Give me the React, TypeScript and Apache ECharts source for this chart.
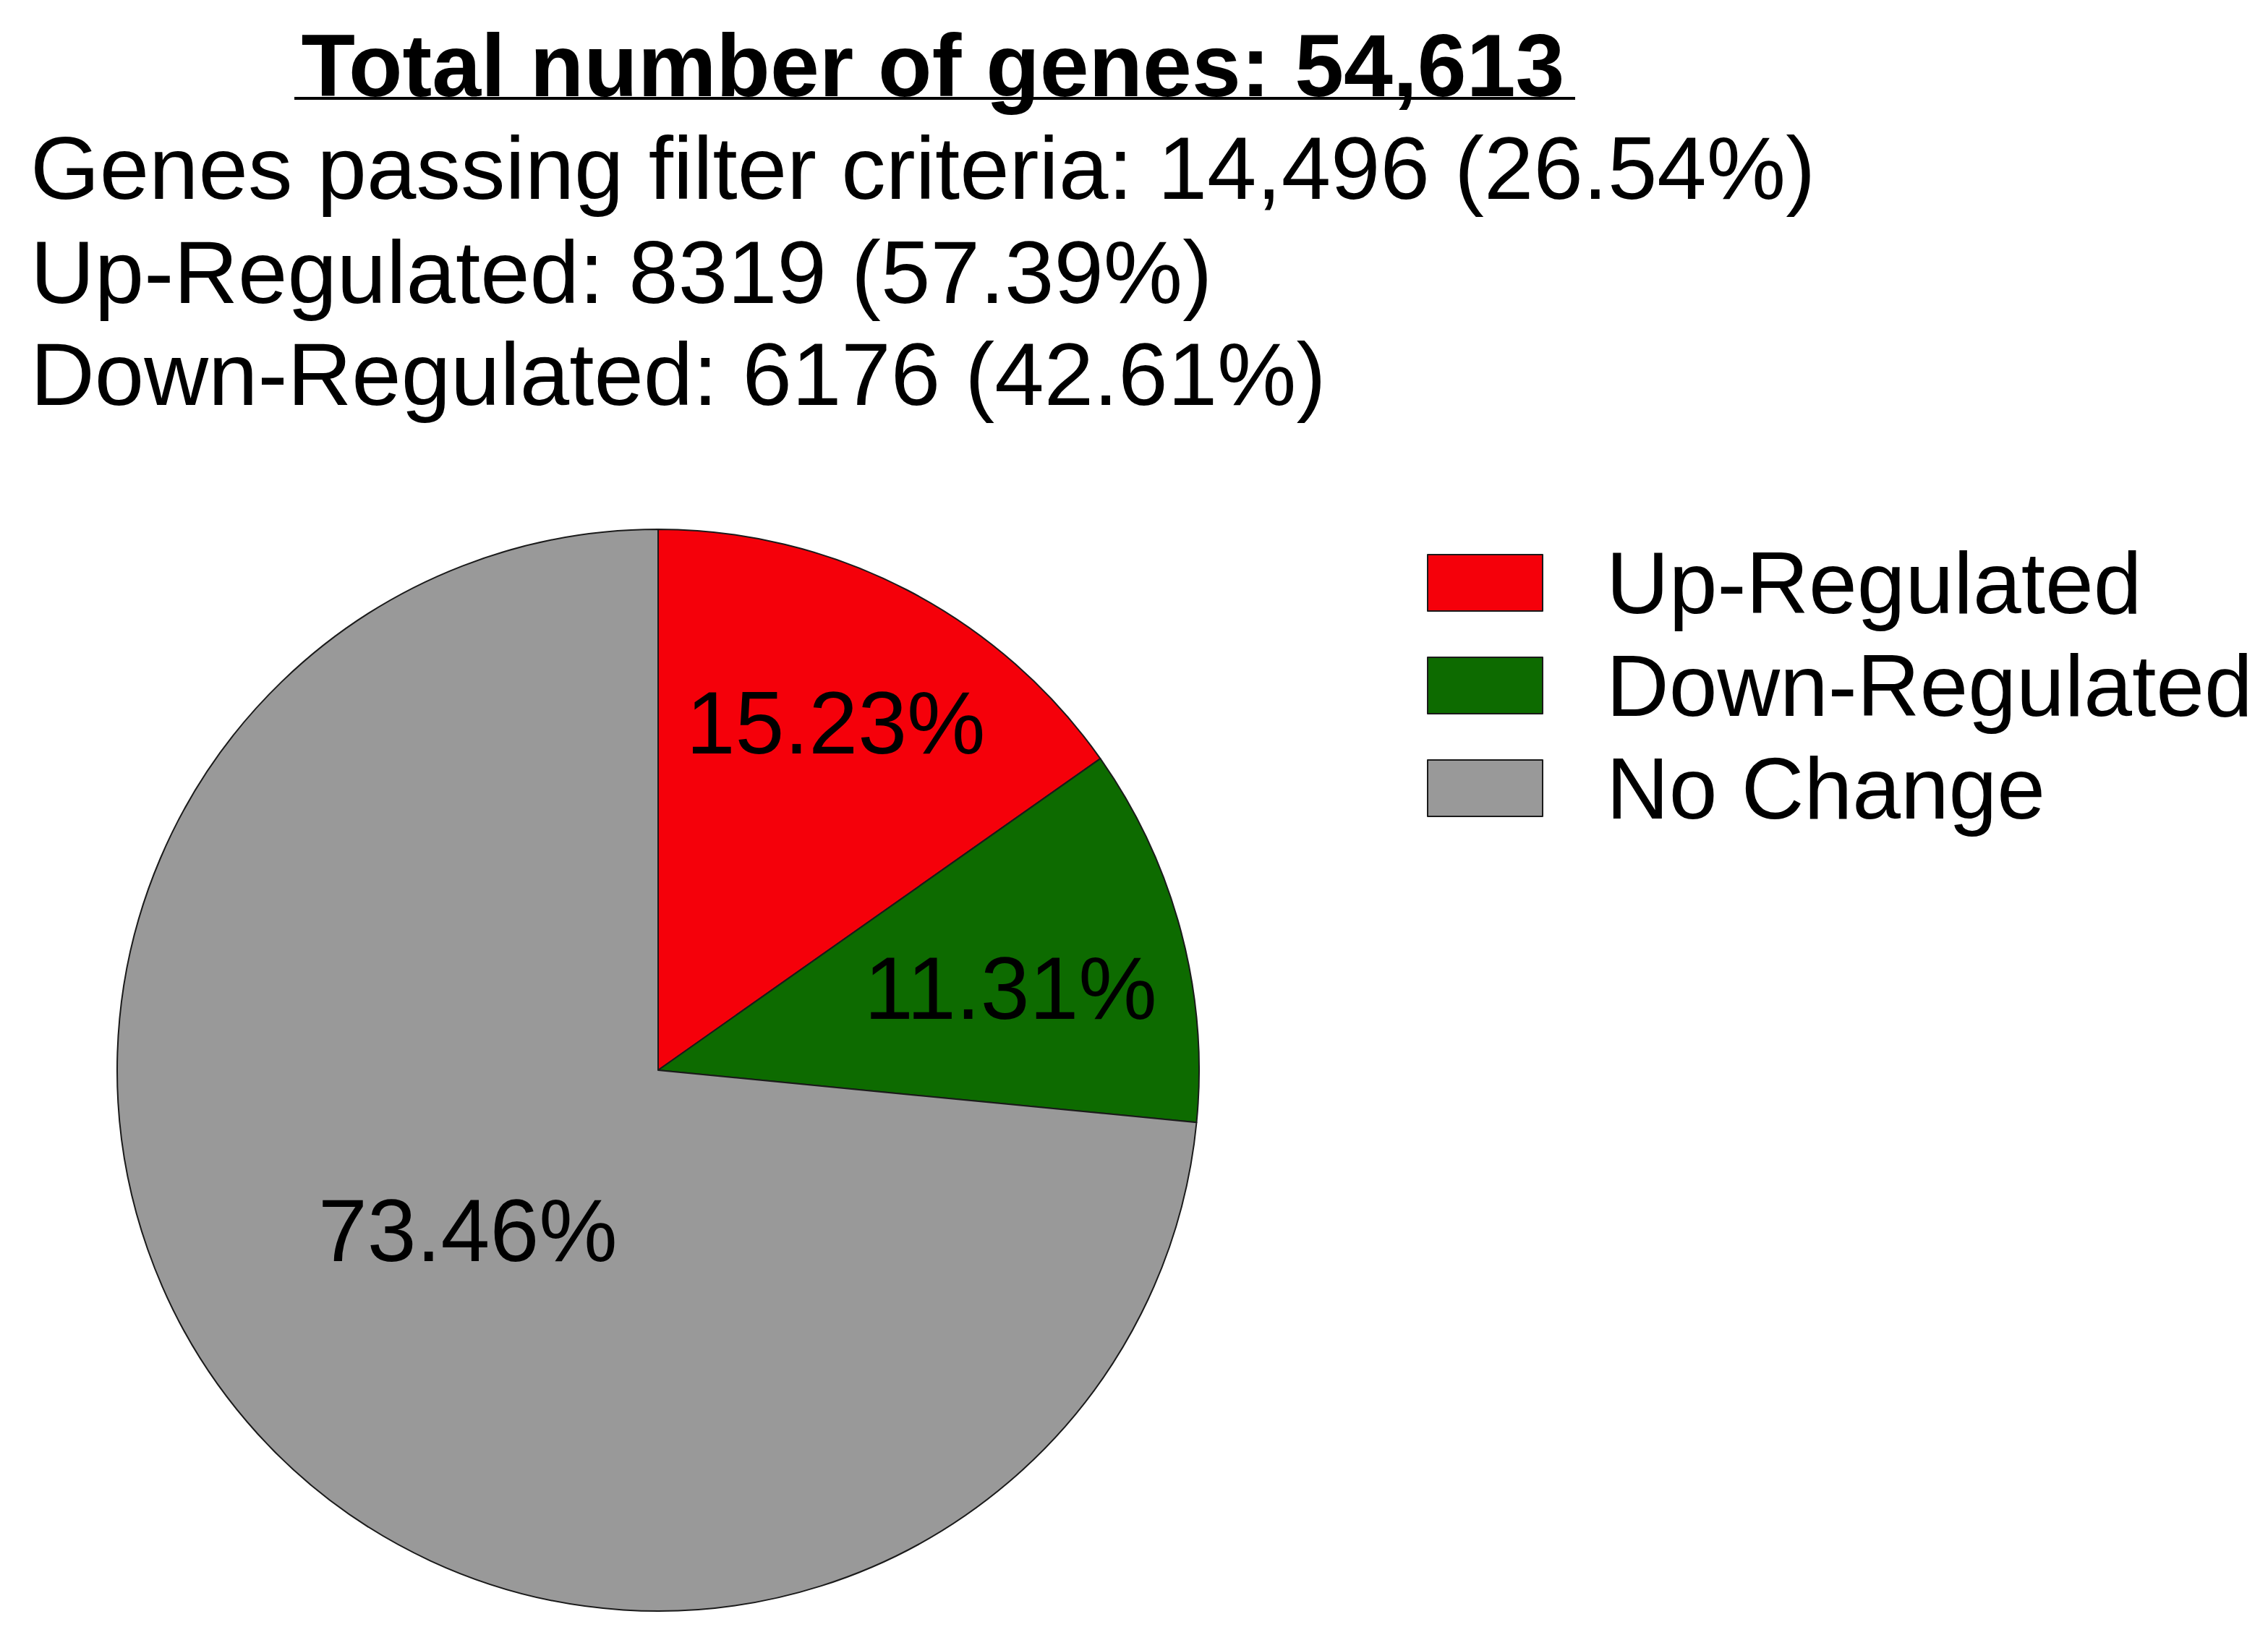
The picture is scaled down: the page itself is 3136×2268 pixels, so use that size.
import React, { useEffect, useRef } from "react";
import * as echarts from "echarts";

const categories = ["Up-Regulated", "Down-Regulated", "No Change"];
const percentages = [15.23, 11.31, 73.46];
const sliceColors = ["#f5000a", "#0d6b00", "#999999"];

const titleText = "Total number of genes: 54,613";
const infoLines = [
  "Genes passing filter criteria: 14,496 (26.54%)",
  "Up-Regulated: 8319 (57.39%)",
  "Down-Regulated: 6176 (42.61%)",
];

// label nudges (px) relative to ECharts' default 'inside' position
const labelNudges = [
  [72, -145],
  [123, -17],
  [16, -31],
];

const FONT = '"Liberation Sans", Arial, Helvetica, sans-serif';

export default function App() {
  const ref = useRef<HTMLDivElement>(null);

  useEffect(() => {
    if (!ref.current) return;
    const chart = echarts.init(ref.current, null, { renderer: "svg" });

    const lineBaselines = [273, 417, 558];
    const graphic: any[] = [
      {
        type: "text",
        x: 1290,
        y: 91,
        style: {
          text: titleText,
          fontSize: 122,
          fontWeight: "bold",
          fontFamily: FONT,
          fill: "#000",
          align: "center",
          verticalAlign: "middle",
        },
      },
      {
        type: "line",
        shape: { x1: 407, y1: 136, x2: 2178, y2: 136 },
        style: { stroke: "#000", lineWidth: 4 },
      },
      ...infoLines.map((t, i) => ({
        type: "text",
        x: 42,
        y: lineBaselines[i] - 41,
        style: {
          text: t,
          fontSize: 123,
          fontFamily: FONT,
          fill: "#000",
          align: "left",
          verticalAlign: "middle",
        },
      })),
    ];

    chart.setOption({
      animation: false,
      backgroundColor: "#ffffff",
      legend: {
        orient: "vertical",
        left: 1973,
        top: 735,
        padding: 0,
        itemGap: 0,
        itemWidth: 159,
        itemHeight: 78,
        icon: "rect",
        data: categories,
        textStyle: {
          fontSize: 120,
          fontFamily: FONT,
          color: "#000",
          lineHeight: 130,
          padding: [0, 0, 12, 83],
        },
      },
      graphic,
      series: [
        {
          type: "pie",
          center: [910, 1480],
          radius: 748,
          startAngle: 90,
          clockwise: true,
          avoidLabelOverlap: false,
          label: {
            show: true,
            position: "inside",
            formatter: (p: any) => `${p.value.toFixed(2)}%`,
            fontSize: 122,
            fontFamily: FONT,
            color: "#000",
          },
          labelLine: { show: false },
          labelLayout: (params: any) => ({
            dx: labelNudges[params.dataIndex][0],
            dy: labelNudges[params.dataIndex][1],
          }),
          itemStyle: { borderColor: "#1a1a1a", borderWidth: 2 },
          emphasis: { disabled: true },
          data: categories.map((name, i) => ({
            name,
            value: percentages[i],
            itemStyle: { color: sliceColors[i] },
          })),
        },
      ],
    });

    return () => chart.dispose();
  }, []);

  return (
    <div
      ref={ref}
      style={{ position: "fixed", left: 0, top: 0, width: 3136, height: 2268 }}
    />
  );
}
